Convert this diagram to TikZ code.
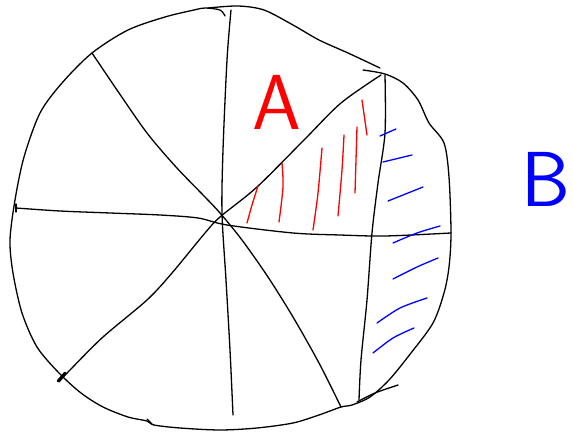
\documentclass[tikz,border=0pt]{standalone}
\begin{document}
\begin{tikzpicture}[x=1pt,y=-1pt, line cap=round, line join=round,
  ink/.style={black, line width=1.3pt},
  redink/.style={red, line width=1.3pt},
  blueink/.style={blue, line width=1.3pt},
  lbl/.style={font=\sffamily\fontsize{78}{78}\selectfont, inner sep=0pt}]
\useasboundingbox (0,0) rectangle (573,438);
% outline of the circle
\draw[ink] plot[smooth, tension=0.5] coordinates {(225,16) (220,10) (205,8) (194,10) (165,17) (128,30) (92,53) (62,83) (40,113) (24,157) (15,200) (10,240) (13,273) (22,313) (37,347) (59,373) (81,393) (103,407) (128,417) (147,421) (154,425) (180,428) (220,430) (257,428) (293,423) (319,415) (341,407) (352,405) (370,397) (389,380) (411,353) (433,323) (444,293) (449,267) (451,233) (449,177) (444,143) (429,123) (418,100) (403,83) (385,74) (363,70)};
\draw[ink] plot[smooth, tension=0.5] coordinates {(208,8) (238,6) (264,10) (293,25) (319,40) (348,53) (380,68)};
\draw[ink] plot[smooth, tension=0.5] coordinates {(357,402) (375,393) (398,385)};
\draw[ink] (147,419) -- (152,424);
% spokes
\draw[ink] plot[smooth, tension=0.5] coordinates {(231,10) (227,60) (223,150) (222,213) (226,280) (230,350) (233,415)};
\draw[ink] plot[smooth, tension=0.5] coordinates {(92,53) (117,90) (147,133) (176,167) (205,197) (220,213) (242,240) (268,277) (293,317) (319,363) (341,407)};
\draw[ink] (16,204) -- (16,212);
\draw[ink] plot[smooth, tension=0.5] coordinates {(16,208) (60,211) (110,213) (160,215) (198,218) (227,225) (293,233) (340,235) (385,236) (451,233)};
\draw[ink] plot[smooth, tension=0.5] coordinates {(59,382) (70,370) (103,337) (147,300) (172,273) (205,233) (220,217) (257,187) (304,140) (341,103) (381,75)};
\draw[black, line width=2.6pt] (58,381) -- (65,373);
\draw[ink] plot[smooth, tension=0.5] coordinates {(385,75) (385,133) (378,183) (372,233) (367,300) (361,360) (359,400)};
% red hatching
\draw[redink] plot[smooth] coordinates {(258,186) (252,205) (247,223)};
\draw[redink] plot[smooth] coordinates {(282,163) (283,187) (279,222)};
\draw[redink] plot[smooth] coordinates {(322,148) (318,193) (313,230)};
\draw[redink] plot[smooth] coordinates {(344,135) (342,170) (338,216)};
\draw[redink] (357,127) -- (355,193);
\draw[redink] (362,100) -- (367,135);
% blue hatching
\draw[blueink] (380,136) -- (396,129);
\draw[blueink] (383,162) -- (412,155);
\draw[blueink] (388,201) -- (423,187);
\draw[blueink] plot[smooth] coordinates {(393,243) (417,233) (440,226)};
\draw[blueink] plot[smooth] coordinates {(393,279) (417,267) (438,258)};
\draw[blueink] plot[smooth] coordinates {(377,323) (400,308) (427,298)};
\draw[blueink] plot[smooth] coordinates {(373,353) (393,338) (414,328)};
% labels
\node[lbl, text=red] (A) at (277,102) {A};
\node[lbl, text=blue] (B) at (546,179) {B};
\end{tikzpicture}
\end{document}
